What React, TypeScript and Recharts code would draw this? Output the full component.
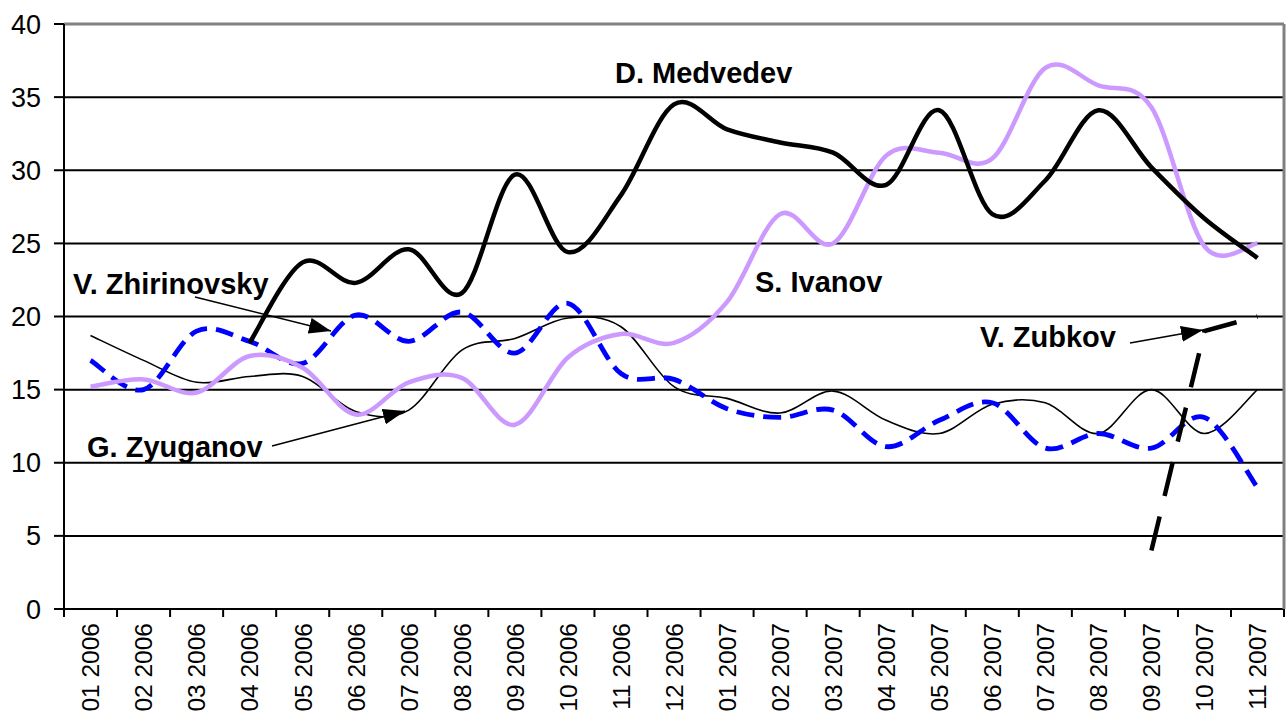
import React from "react";
import { LineChart, Line, XAxis, YAxis, CartesianGrid, ReferenceLine } from "recharts";

const categories = [
  "01 2006", "02 2006", "03 2006", "04 2006", "05 2006", "06 2006", "07 2006", "08 2006",
  "09 2006", "10 2006", "11 2006", "12 2006", "01 2007", "02 2007", "03 2007", "04 2007",
  "05 2007", "06 2007", "07 2007", "08 2007", "09 2007", "10 2007", "11 2007",
];

const medvedev = [null, null, null, 18.2, 23.7, 22.3, 24.6, 21.6, 29.7, 24.4, 28.3, 34.5, 32.8, 31.9, 31.2, 29, 34.1, 27, 29.3, 34.1, 30.2, 26.7, 24];
const ivanov = [15.2, 15.7, 14.8, 17.3, 16.5, 13.3, 15.5, 15.8, 12.6, 17.2, 18.8, 18.2, 21, 27, 25, 31, 31.2, 30.8, 37, 35.8, 34.3, 24.8, 25];
const zhirinovsky = [17, 15, 19, 18.3, 16.8, 20.1, 18.3, 20.3, 17.5, 20.9, 16.1, 15.7, 13.7, 13.1, 13.6, 11.1, 12.9, 14.1, 11, 12, 11, 13.1, 8.3];
const zyuganov = [18.7, 17, 15.5, 15.9, 15.9, 13.5, 13.6, 17.7, 18.5, 19.9, 19.3, 15.2, 14.4, 13.4, 14.9, 12.9, 12, 14, 14.1, 12, 15, 12, 15];
const zubkov = [null, null, null, null, null, null, null, null, null, null, null, null, null, null, null, null, null, null, null, null, 4, 19, 20];

const yTicks = [0, 5, 10, 15, 20, 25, 30, 35, 40];

const data = categories.map((c, i) => ({
  month: c,
  medvedev: medvedev[i],
  ivanov: ivanov[i],
  zhirinovsky: zhirinovsky[i],
  zyuganov: zyuganov[i],
  zubkov: zubkov[i],
}));

const FONT = "'Liberation Sans', Arial, sans-serif";
const HALF_STEP = 26.5;

// Excel-like smoothing (Catmull-Rom through every point)
const smooth = (context: any) => {
  let pts: number[][] = [];
  return {
    areaStart() {},
    areaEnd() {},
    lineStart() {
      pts = [];
    },
    point(x: number, y: number) {
      pts.push([+x, +y]);
    },
    lineEnd() {
      const n = pts.length;
      if (!n) return;
      context.moveTo(pts[0][0], pts[0][1]);
      for (let i = 0; i < n - 1; i++) {
        const p0 = pts[i - 1] || pts[i];
        const p1 = pts[i];
        const p2 = pts[i + 1];
        const p3 = pts[i + 2] || p2;
        context.bezierCurveTo(
          p1[0] + (p2[0] - p0[0]) / 6,
          p1[1] + (p2[1] - p0[1]) / 6,
          p2[0] - (p3[0] - p1[0]) / 6,
          p2[1] - (p3[1] - p1[1]) / 6,
          p2[0],
          p2[1]
        );
      }
    },
  };
};

function XTick(props: any) {
  const { x, y, payload } = props;
  const last = payload.value === categories[categories.length - 1];
  return (
    <g>
      <line x1={x - HALF_STEP} x2={x - HALF_STEP} y1={y} y2={y + 8} stroke="#000" strokeWidth={2} />
      {last && <line x1={x + HALF_STEP} x2={x + HALF_STEP} y1={y} y2={y + 8} stroke="#000" strokeWidth={2} />}
      <text
        transform={`translate(${x},${y + 14}) rotate(-90)`}
        textAnchor="end"
        dy="0.36em"
        fontSize={24.5}
        fontFamily={FONT}
        fill="#000"
      >
        {payload.value}
      </text>
    </g>
  );
}

const labelStyle = { fontFamily: FONT, fontSize: 29, fontWeight: 700, fill: "#000" };

export default function App() {
  return (
    <div style={{ position: "absolute", left: 0, top: 0, width: 1286, height: 715, background: "#fff" }}>
      <LineChart width={1286} height={715} data={data} margin={{ top: 24, right: 0, bottom: 0, left: 0 }}>
        <CartesianGrid vertical={false} stroke="#000" strokeWidth={2} />
        <XAxis
          dataKey="month"
          interval={0}
          height={106}
          padding={{ left: HALF_STEP, right: HALF_STEP }}
          tickLine={false}
          tickSize={0}
          tickMargin={0}
          tick={<XTick />}
          axisLine={{ stroke: "#000", strokeWidth: 2 }}
        />
        <YAxis
          width={64}
          domain={[0, 40]}
          ticks={yTicks}
          interval={0}
          tickSize={10}
          tickMargin={13}
          tickLine={{ stroke: "#000", strokeWidth: 2 }}
          axisLine={{ stroke: "#000", strokeWidth: 2 }}
          tick={{ fill: "#000", fontSize: 27, fontFamily: FONT }}
        />
        <YAxis
          yAxisId="r"
          orientation="right"
          width={2}
          domain={[0, 40]}
          tick={false}
          tickLine={false}
          axisLine={{ stroke: "#808080", strokeWidth: 3 }}
        />
        <ReferenceLine y={40} stroke="#808080" strokeWidth={3} />
        <Line dataKey="zyuganov" type={smooth as any} stroke="#000" strokeWidth={1.6} dot={false} activeDot={false} isAnimationActive={false} />
        <Line dataKey="zhirinovsky" type={smooth as any} stroke="#0000ff" strokeWidth={4.8} strokeDasharray="18 9" dot={false} activeDot={false} isAnimationActive={false} />
        <Line dataKey="ivanov" type={smooth as any} stroke="#cc99ff" strokeWidth={4.5} dot={false} activeDot={false} isAnimationActive={false} />
        <Line dataKey="medvedev" type={smooth as any} stroke="#000" strokeWidth={4.5} dot={false} activeDot={false} isAnimationActive={false} />
        <Line dataKey="zubkov" type="linear" stroke="#000" strokeWidth={4.5} strokeDasharray="35 21" dot={false} activeDot={false} isAnimationActive={false} />
      </LineChart>
      <svg width={1286} height={715} style={{ position: "absolute", left: 0, top: 0, pointerEvents: "none" }}>
        <defs>
          <marker id="ah" markerWidth={22} markerHeight={16} refX={22} refY={8} orient="auto" markerUnits="userSpaceOnUse">
            <path d="M0,0 L22,8 L0,16 Z" fill="#000" />
          </marker>
        </defs>
        <text x={615} y={83} style={labelStyle}>D. Medvedev</text>
        <text x={755} y={292} style={labelStyle}>S. Ivanov</text>
        <text x={73} y={294} style={labelStyle}>V. Zhirinovsky</text>
        <text x={87} y={457} style={labelStyle}>G. Zyuganov</text>
        <text x={980} y={347} style={labelStyle}>V. Zubkov</text>
        <line x1={195} y1={297} x2={331} y2={331} stroke="#000" strokeWidth={1.5} markerEnd="url(#ah)" />
        <line x1={272} y1={446} x2={405} y2={411} stroke="#000" strokeWidth={1.5} markerEnd="url(#ah)" />
        <line x1={1130} y1={343} x2={1203} y2={330} stroke="#000" strokeWidth={1.5} markerEnd="url(#ah)" />
      </svg>
    </div>
  );
}
